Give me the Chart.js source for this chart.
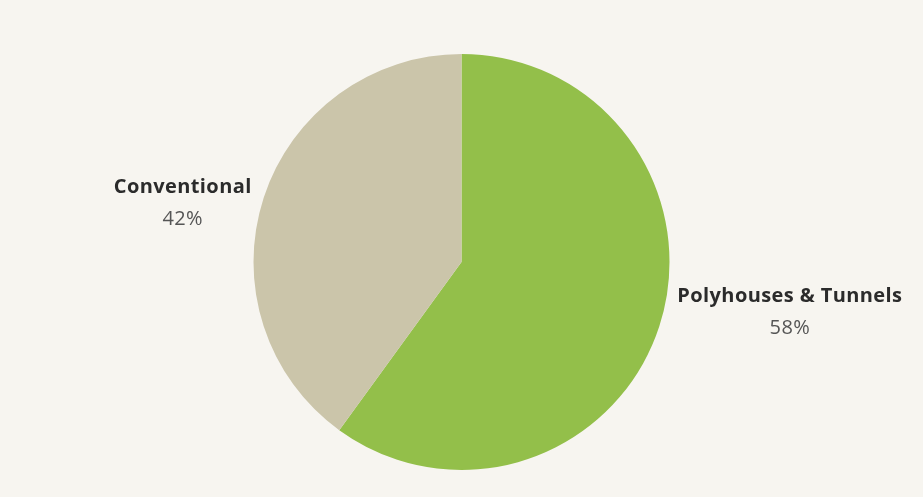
<!DOCTYPE html>
<html>
<head>
<meta charset="utf-8">
<script src="https://cdn.jsdelivr.net/npm/chart.js@4"></script>
<style>
  html, body { margin: 0; padding: 0; background: #f7f5f0; }
  #wrap { width: 923px; height: 497px; position: relative; }
</style>
</head>
<body>
<div id="wrap"><canvas id="pie"></canvas></div>
<script>
const categories = ['Polyhouses & Tunnels', 'Conventional'];
// slice sizes as drawn in the picture
const shares = [60, 40];
// percentages as printed beside the slices
const shareLabels = ['58%', '42%'];
const colors = ['#93bf4a', '#cbc5aa'];

// draw category name + percent beside each slice
const sideLabels = {
  id: 'sideLabels',
  afterDraw(chart) {
    const ctx = chart.ctx;
    const arcs = chart.getDatasetMeta(0).data;
    arcs.forEach((arc, i) => {
      const mid = (arc.startAngle + arc.endAngle) / 2;
      const px = arc.x + Math.cos(mid) * arc.outerRadius;
      const py = arc.y + Math.sin(mid) * arc.outerRadius;
      const right = Math.cos(mid) >= 0;
      ctx.save();
      ctx.letterSpacing = '0.4px';
      ctx.font = 'bold 20px "Open Sans"';
      const w = ctx.measureText(categories[i]).width;
      const cx = right ? px + w / 2 + 18 : px - w / 2 - 12;
      const cy = right ? py - 14 : py + 6;
      ctx.textAlign = 'center';
      ctx.textBaseline = 'middle';
      ctx.fillStyle = '#2b2b2b';
      ctx.fillText(categories[i], cx, cy - 16);
      ctx.font = '20px "Open Sans"';
      ctx.fillStyle = '#555555';
      ctx.fillText(shareLabels[i], cx, cy + 16);
      ctx.restore();
    });
  }
};

new Chart(document.getElementById('pie'), {
  type: 'pie',
  data: {
    labels: categories,
    datasets: [{
      data: shares,
      backgroundColor: colors,
      borderWidth: 0,
    }]
  },
  options: {
    responsive: true,
    maintainAspectRatio: false,
    animation: false,
    layout: { padding: { top: 54, bottom: 27 } },
    plugins: { legend: { display: false }, tooltip: { enabled: false } }
  },
  plugins: [sideLabels]
});
</script>
</body>
</html>
